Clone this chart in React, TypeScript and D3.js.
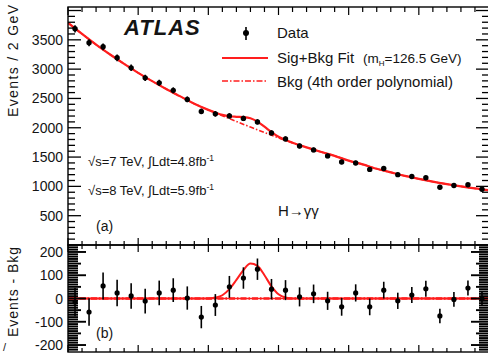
import React from 'react';
import * as d3 from 'd3';

const W = 488;
const H = 356;

// bin centres (GeV)
const massBins = [101, 103, 105, 107, 109, 111, 113, 115, 117, 119, 121, 123, 125, 127, 129, 131, 133, 135, 137, 139, 141, 143, 145, 147, 149, 151, 153, 155, 157, 159];
// Events / 2 GeV
const events = [3688, 3449, 3381, 3193, 3022, 2851, 2766, 2638, 2484, 2279, 2237, 2202, 2160, 2100, 1912, 1810, 1690, 1622, 1520, 1417, 1400, 1290, 1306, 1200, 1169, 1146, 984, 1015, 1027, 950];
const eventErr = [61, 59, 58, 57, 55, 53, 53, 51, 50, 48, 47, 47, 46, 46, 44, 43, 41, 40, 39, 38, 37, 36, 36, 35, 34, 34, 31, 32, 32, 31];
// Events - Bkg
const residual = [-15, -58, 54, 24, 11, -11, 24, 36, 2, -80, -28, 50, 88, 126, 40, 36, 7, 20, -10, -36, 24, -36, 36, -10, 15, 42, -75, -4, 45, -1];

// background (4th order polynomial)
const bkgMass = [100, 102, 104, 106, 108, 110, 112, 114, 116, 118, 120, 122, 124, 126, 128, 130, 132, 134, 136, 138, 140, 142, 144, 146, 148, 150, 152, 154, 156, 158, 160];
const bkgEvents = [3790, 3600, 3418, 3250, 3090, 2937, 2795, 2660, 2535, 2410, 2305, 2205, 2107, 2012, 1918, 1828, 1745, 1665, 1590, 1520, 1440, 1375, 1300, 1240, 1180, 1128, 1080, 1038, 1000, 965, 935];
// signal component (fit - bkg)
const sigMass = [100, 118, 120, 121, 122, 123, 124, 125, 126, 127, 128, 129, 130, 131, 132, 134, 160];
const sigEvents = [0, 0, 0, 4, 14, 40, 80, 122, 150, 140, 100, 52, 18, 4, 0, 0, 0];

const yTicksMain = [500, 1000, 1500, 2000, 2500, 3000, 3500];
const yTicksRes = [-200, -100, 0, 100, 200];

const X0 = 68, X1 = 489, YT = 7, YM = 245, YB = 352;
const RED = '#ff1e1e';
const INK = '#141414';
const FONT = '"Liberation Sans", Arial, Helvetica, sans-serif';

export default function App() {
  const x = d3.scaleLinear().domain([100, 160]).range([X0, X1]);
  const yM = d3.scaleLinear().domain([0, 4060]).range([YM, YT]);
  const yR = d3.scaleLinear().domain([-230, 230]).range([YB, YM]);

  const bkgAt = d3.scaleLinear().domain(bkgMass).range(bkgEvents);
  const sigAt = d3.scaleLinear().domain(sigMass).range(sigEvents);
  const grid = Array.from(new Set([...bkgMass, ...sigMass])).sort((a, b) => a - b);

  const bkgLine = d3.line<number>().x(m => x(m)).y(m => yM(bkgAt(m))).curve(d3.curveMonotoneX);
  const fitLine = d3.line<number>().x(m => x(m)).y(m => yM(bkgAt(m) + sigAt(m))).curve(d3.curveMonotoneX);
  const sigLine = d3.line<number>().x(m => x(m)).y(m => yR(sigAt(m))).curve(d3.curveMonotoneX);

  const xMinor = d3.range(100, 160.001, 2);
  const yMinorMain = d3.range(0, 4060, 100);
  const yMinorRes = d3.range(-220, 221, 10);

  return (
    <svg width={W} height={H} style={{ position: 'absolute', left: 0, top: 0, background: '#fff' }} fontFamily={FONT}>
      <defs>
        <clipPath id="cm"><rect x={X0} y={YT} width={X1 - X0} height={YM - YT} /></clipPath>
        <clipPath id="cr"><rect x={X0} y={YM} width={X1 - X0} height={YB - YM} /></clipPath>
      </defs>
      <rect width={W} height={H} fill="#fff" />

      {/* ---------- main panel ---------- */}
      <g clipPath="url(#cm)">
        <path d={bkgLine(bkgMass) || ''} fill="none" stroke={RED} strokeWidth={1.6} strokeDasharray="5 2 1.5 2" />
        <path d={fitLine(grid) || ''} fill="none" stroke={RED} strokeWidth={2.2} />
        {massBins.map((m, i) => (
          <g key={i}>
            <line x1={x(m)} x2={x(m)} y1={yM(events[i] - eventErr[i])} y2={yM(events[i] + eventErr[i])} stroke="#000" strokeWidth={1.6} />
            <circle cx={x(m)} cy={yM(events[i])} r={2.7} fill="#000" />
          </g>
        ))}
      </g>

      {/* main axes ticks */}
      {xMinor.map((m, i) => {
        const major = Math.abs(m % 10) < 1e-6;
        const L = major ? 8 : 5;
        return (
          <g key={'xt' + i} stroke="#000" strokeWidth={1.2}>
            <line x1={x(m)} x2={x(m)} y1={YT} y2={YT + L} />
            <line x1={x(m)} x2={x(m)} y1={YM} y2={YM - (major ? 7 : 4)} />
            <line x1={x(m)} x2={x(m)} y1={YM} y2={YM + (major ? 7 : 4)} />
            <line x1={x(m)} x2={x(m)} y1={YB} y2={YB - (major ? 7 : 4)} />
          </g>
        );
      })}
      {yMinorMain.map((v, i) => {
        const major = v % 500 === 0;
        const L = major ? 13 : 7;
        return (
          <g key={'ym' + i} stroke="#000" strokeWidth={1.3}>
            <line x1={X0} x2={X0 + L} y1={yM(v)} y2={yM(v)} />
            <line x1={X1} x2={X1 - L} y1={yM(v)} y2={yM(v)} />
          </g>
        );
      })}
      {yTicksMain.map(v => (
        <text key={'ml' + v} x={63} y={yM(v) + 5} fontSize={14} textAnchor="end" fill={INK}>{v}</text>
      ))}

      {/* ---------- residual panel ---------- */}
      <g clipPath="url(#cr)">
        <line x1={X0} x2={X1} y1={yR(0)} y2={yR(0)} stroke={RED} strokeWidth={1.4} />
        <line x1={X0} x2={X1} y1={yR(0)} y2={yR(0)} stroke={RED} strokeWidth={2.4} strokeDasharray="6 2 1.5 2" />
        <path d={sigLine(sigMass) || ''} fill="none" stroke={RED} strokeWidth={2} />
        {massBins.map((m, i) => (
          <g key={i}>
            <line x1={x(m)} x2={x(m)} y1={yR(residual[i] - eventErr[i])} y2={yR(residual[i] + eventErr[i])} stroke="#000" strokeWidth={1.6} />
            <circle cx={x(m)} cy={yR(residual[i])} r={2.6} fill="#000" />
          </g>
        ))}
      </g>
      {yMinorRes.map((v, i) => {
        const major = v % 100 === 0;
        const mid = v % 50 === 0;
        const L = major ? 18 : mid ? 13 : 10;
        return (
          <g key={'yr' + i} stroke="#000" strokeWidth={1.9}>
            <line x1={X0} x2={X0 + L} y1={yR(v)} y2={yR(v)} />
            <line x1={X1} x2={X1 - L} y1={yR(v)} y2={yR(v)} />
          </g>
        );
      })}
      {yTicksRes.map(v => (
        <text key={'rl' + v} x={63} y={yR(v) + 5} fontSize={14} textAnchor="end" fill={INK}>{v}</text>
      ))}

      {/* frames */}
      <rect x={X0} y={YT} width={X1 - X0} height={YM - YT} fill="none" stroke="#000" strokeWidth={1.4} />
      <rect x={X0} y={YM} width={X1 - X0} height={YB - YM} fill="none" stroke="#000" strokeWidth={1.4} />

      {/* axis titles */}
      <text transform="translate(18,5) rotate(-90)" fontSize={14} textAnchor="end" fill={INK} textLength={112} lengthAdjust="spacing">Events / 2 GeV</text>
      <text transform="translate(18,247) rotate(-90)" fontSize={14} textAnchor="end" fill={INK} textLength={90} lengthAdjust="spacing">Events - Bkg</text>
      <text x={3} y={351} fontSize={11} fill={INK}>/</text>

      {/* ATLAS + legend */}
      <text x={124} y={35} fontSize={22} fontWeight="bold" fontStyle="italic" fill={INK} letterSpacing={1}>ATLAS</text>
      <line x1={246} x2={246} y1={27} y2={40} stroke="#000" strokeWidth={1.6} />
      <circle cx={246} cy={33} r={3} fill="#000" />
      <text x={277} y={38} fontSize={15} fill={INK}>Data</text>
      <line x1={222} x2={268} y1={58} y2={58} stroke={RED} strokeWidth={2} />
      <text x={277} y={63} fontSize={15} fill={INK}>Sig+Bkg Fit</text>
      <text x={363} y={63} fontSize={13.5} fill={INK}>(m<tspan dy={3} fontSize={8}>H</tspan><tspan dy={-3}>=126.5 GeV)</tspan></text>
      <line x1={222} x2={268} y1={81} y2={81} stroke={RED} strokeWidth={1.6} strokeDasharray="6 2 1.5 2" />
      <text x={277} y={87} fontSize={15} fill={INK}>Bkg (4th order polynomial)</text>

      {/* annotations */}
      <text x={88} y={166} fontSize={13} fill={INK}>√s=7 TeV, ∫Ldt=4.8fb<tspan dy={-5} fontSize={8.5}>-1</tspan></text>
      <text x={88} y={195} fontSize={13} fill={INK}>√s=8 TeV, ∫Ldt=5.9fb<tspan dy={-5} fontSize={8.5}>-1</tspan></text>
      <text x={96} y={231} fontSize={14} fill={INK}>(a)</text>
      <text x={278} y={216} fontSize={15} fill={INK}>H→γγ</text>
      <text x={96} y={338} fontSize={14} fill={INK}>(b)</text>
    </svg>
  );
}
